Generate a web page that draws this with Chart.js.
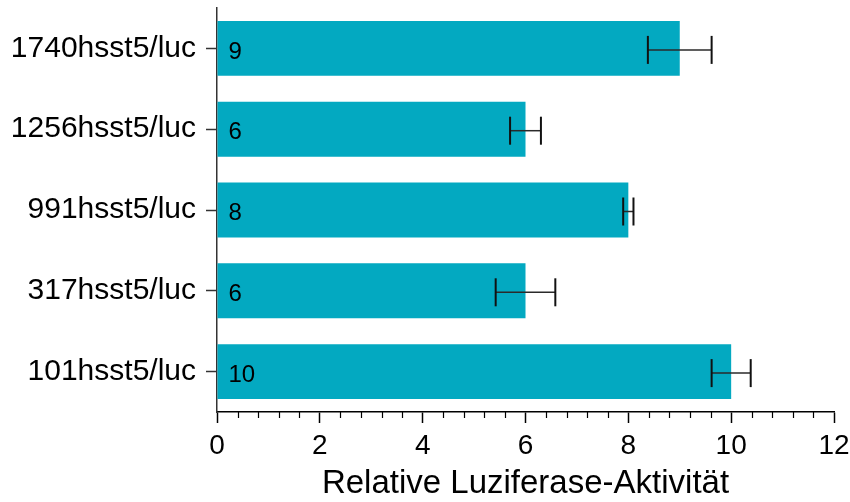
<!DOCTYPE html>
<html>
<head>
<meta charset="utf-8">
<script src="https://cdn.jsdelivr.net/npm/chart.js@4/dist/chart.umd.min.js"></script>
<style>
  html, body { margin: 0; padding: 0; background: #ffffff; }
  .chart { width: 850px; height: 502px; }
</style>
</head>
<body>
<div class="chart"><canvas id="chart"></canvas></div>
<script>
const categories = ['1740hsst5/luc', '1256hsst5/luc', '991hsst5/luc', '317hsst5/luc', '101hsst5/luc'];
const means = [9, 6, 8, 6, 10];
const errors = [0.62, 0.3, 0.1, 0.58, 0.38];
const barLabels = ['9', '6', '8', '6', '10'];
const minorStep = 0.4;

const FONT = "'Liberation Sans', Arial, sans-serif";

const errorBars = {
  id: 'errorBars',
  afterDatasetsDraw(chart) {
    const ctx = chart.ctx;
    const x = chart.scales.x;
    const meta = chart.getDatasetMeta(0);
    ctx.save();
    meta.data.forEach((bar, i) => {
      const lo = x.getPixelForValue(means[i] - errors[i]);
      const hi = x.getPixelForValue(means[i] + errors[i]);
      const y = bar.y + 1.5;
      ctx.strokeStyle = '#2a2a2a';
      ctx.lineWidth = 1.5;
      ctx.beginPath();
      ctx.moveTo(lo, y);
      ctx.lineTo(hi, y);
      ctx.stroke();
      ctx.strokeStyle = '#111111';
      ctx.lineWidth = 2;
      [lo, hi].forEach(px => {
        ctx.beginPath();
        ctx.moveTo(px, y - 14);
        ctx.lineTo(px, y + 14);
        ctx.stroke();
      });
    });
    ctx.restore();
  }
};

const barText = {
  id: 'barText',
  afterDatasetsDraw(chart) {
    const ctx = chart.ctx;
    const meta = chart.getDatasetMeta(0);
    ctx.save();
    ctx.font = `24px ${FONT}`;
    ctx.fillStyle = '#000000';
    ctx.textAlign = 'left';
    ctx.textBaseline = 'middle';
    meta.data.forEach((bar, i) => {
      ctx.fillText(barLabels[i], bar.base + 11, bar.y + 3.5);
    });
    ctx.restore();
  }
};

const minorTicks = {
  id: 'minorTicks',
  afterDraw(chart) {
    const ctx = chart.ctx;
    const x = chart.scales.x;
    const n = Math.round((x.max - x.min) / minorStep);
    ctx.save();
    ctx.strokeStyle = '#000000';
    ctx.lineWidth = 1.2;
    for (let i = 1; i < n; i++) {
      if (i % 5 === 0) continue;
      const px = Math.round(x.getPixelForValue(x.min + i * minorStep)) + 0.5;
      ctx.beginPath();
      ctx.moveTo(px, x.top);
      ctx.lineTo(px, x.top + 6);
      ctx.stroke();
    }
    ctx.restore();
  }
};

new Chart(document.getElementById('chart'), {
  type: 'bar',
  data: {
    labels: categories,
    datasets: [{
      data: means,
      backgroundColor: '#03A9C1',
      borderWidth: 0,
      categoryPercentage: 1,
      barPercentage: 0.68
    }]
  },
  options: {
    indexAxis: 'y',
    responsive: true,
    maintainAspectRatio: false,
    animation: false,
    layout: {
      padding: { top: 8, right: 16, bottom: 0, left: 0 }
    },
    plugins: {
      legend: { display: false },
      tooltip: { enabled: false }
    },
    scales: {
      x: {
        min: 0,
        max: 12,
        ticks: {
          stepSize: 2,
          color: '#000000',
          padding: 6,
          font: { family: FONT, size: 28 }
        },
        grid: {
          drawOnChartArea: false,
          tickLength: 11,
          tickWidth: 1.5,
          tickColor: '#000000'
        },
        border: { color: '#000000', width: 1.5 },
        title: {
          display: true,
          text: 'Relative Luziferase-Aktivität',
          color: '#000000',
          padding: { top: 0, bottom: -2 },
          font: { family: FONT, size: 33 }
        },
        afterFit(scale) {
          scale.height = 90;
          scale.paddingLeft = 0;
          scale.paddingRight = 0;
        }
      },
      y: {
        ticks: {
          color: '#000000',
          padding: 10,
          font: { family: FONT, size: 30 }
        },
        grid: {
          offset: false,
          drawOnChartArea: false,
          tickLength: 11,
          tickWidth: 1.5,
          tickColor: '#333333'
        },
        border: { color: '#333333', width: 1.5 },
        afterFit(scale) {
          scale.width = 217;
          scale.paddingTop = 0;
          scale.paddingBottom = 0;
        }
      }
    }
  },
  plugins: [errorBars, barText, minorTicks]
});
</script>
</body>
</html>
